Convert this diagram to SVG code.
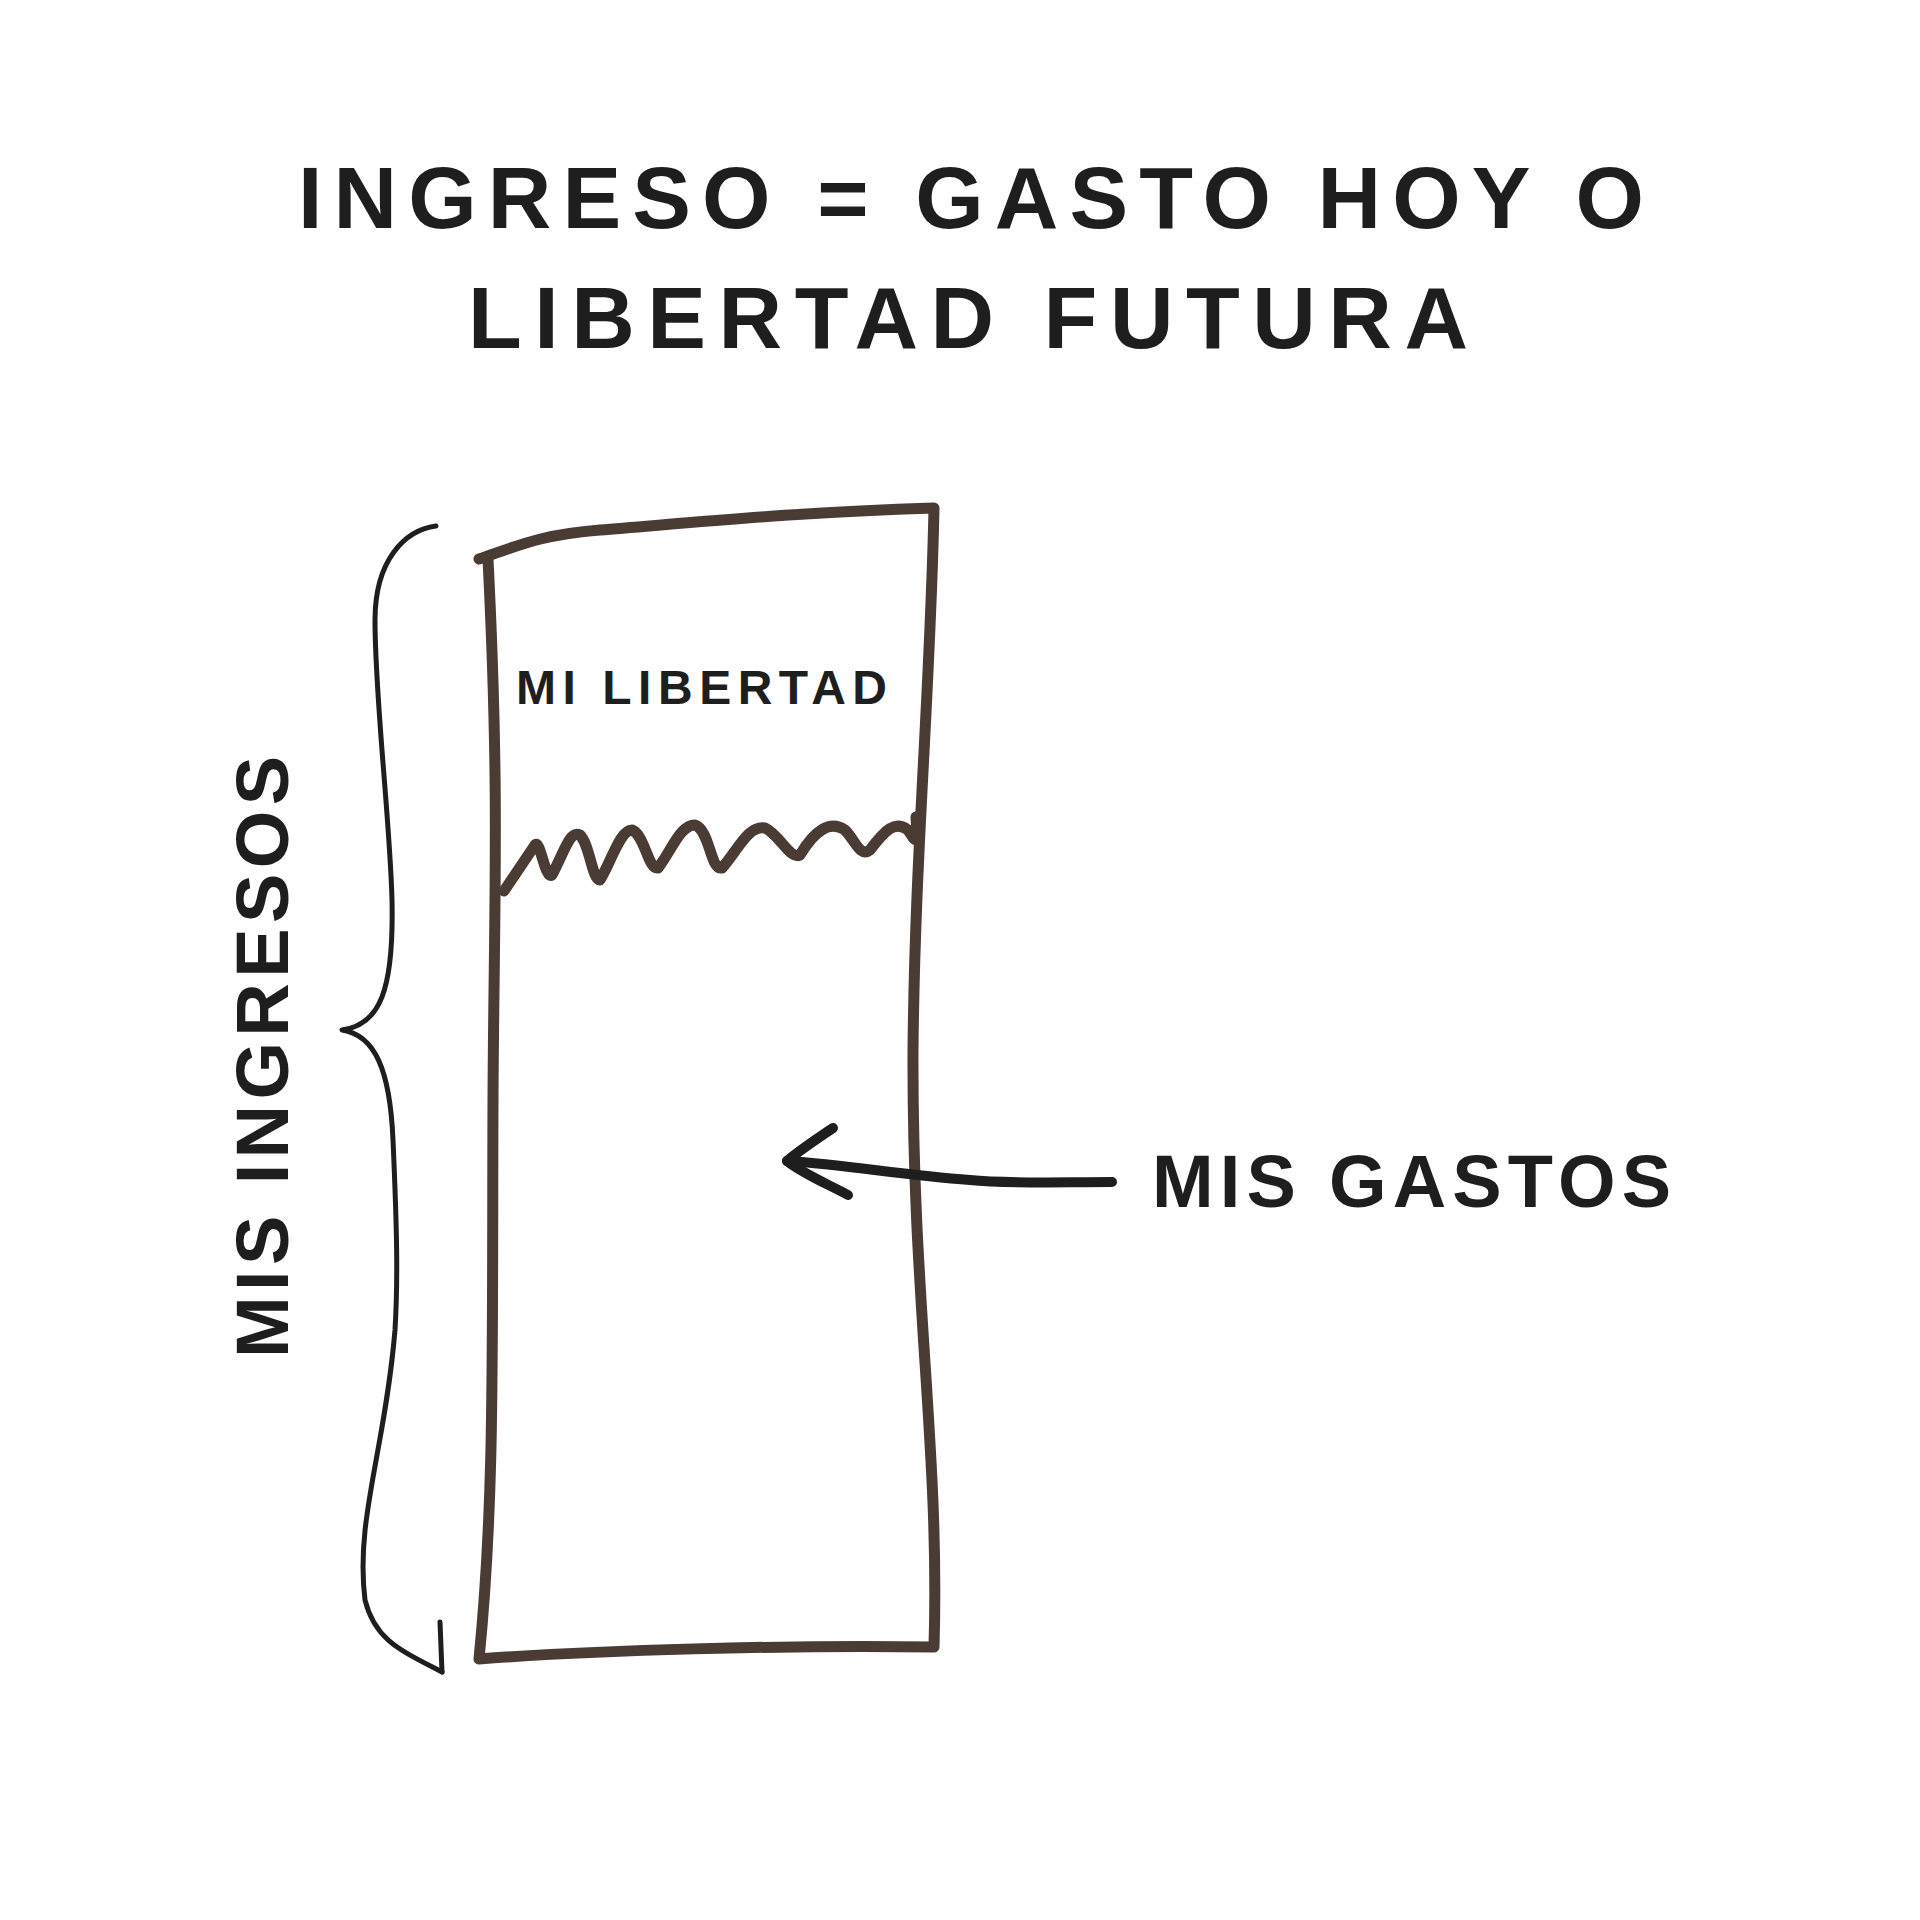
<svg xmlns="http://www.w3.org/2000/svg" width="1920" height="1920" viewBox="0 0 1920 1920">
<style>
.t{font-family:"Liberation Sans","DejaVu Sans",sans-serif;font-weight:bold;fill:#1e1e1e}
.box{fill:none;stroke:#4a3b34;stroke-width:11;stroke-linecap:round;stroke-linejoin:round}
.ink{fill:none;stroke:#1e1e1e;stroke-linecap:round;stroke-linejoin:round}
</style>
<rect width="1920" height="1920" fill="#fff"/>
<g id="title">
<text class="t" x="971" y="228" font-size="88" text-anchor="middle" textLength="1346" lengthAdjust="spacing">INGRESO = GASTO HOY O</text>
<text class="t" x="968" y="348" font-size="88" text-anchor="middle" textLength="1000" lengthAdjust="spacing">LIBERTAD FUTURA</text>
</g>
<g id="column">
<path class="box" d="M479,559 C520,545 540,535 600,530 C700,522 800,512 934,508 C930,700 915,850 913,1050 C912,1300 940,1450 934,1647 C780,1645 600,1650 479,1659 C495,1500 492,1350 493,1100 C494,900 500,800 488,559"/>
<path class="box" d="M504,891 L535,845 C540,838 545,880 552,875 C565,850 570,830 580,835 C590,845 592,880 600,880 C612,860 620,830 632,830 C645,835 648,870 658,868 C672,850 680,825 695,825 C710,830 710,870 722,868 C738,850 748,825 765,828 C780,835 790,860 800,855 C815,830 830,820 845,830 C855,840 860,858 870,850 C885,830 895,820 908,830 C915,840 918,850 916,817"/>
<text class="t" x="516" y="704" font-size="48" textLength="371" lengthAdjust="spacing">MI LIBERTAD</text>
</g>
<g id="ingresos">
<path class="ink" stroke-width="5" d="M436,526 C405,530 375,560 375,620 C375,700 390,820 392,900 C394,990 380,1025 342,1030 C375,1035 390,1070 393,1140 C397,1230 398,1280 395,1330 C385,1450 355,1520 365,1600 C375,1640 400,1650 442,1672"/>
<path class="ink" stroke-width="5" d="M442,1672 L440,1622"/>
<text class="t" transform="translate(288,1057) rotate(-90)" font-size="74" text-anchor="middle" textLength="602" lengthAdjust="spacing">MIS INGRESOS</text>
</g>
<g id="connectors">
<path class="ink" stroke-width="10" d="M1112,1182 C1060,1182 1010,1184 970,1180 C900,1175 850,1165 787,1161"/>
<path class="ink" stroke-width="10" d="M833,1128 C815,1140 800,1150 787,1161 C805,1175 830,1185 848,1195"/>
</g>
<g id="gastos">
<text class="t" x="1152" y="1207" font-size="74" textLength="519" lengthAdjust="spacing">MIS GASTOS</text>
</g>
</svg>
